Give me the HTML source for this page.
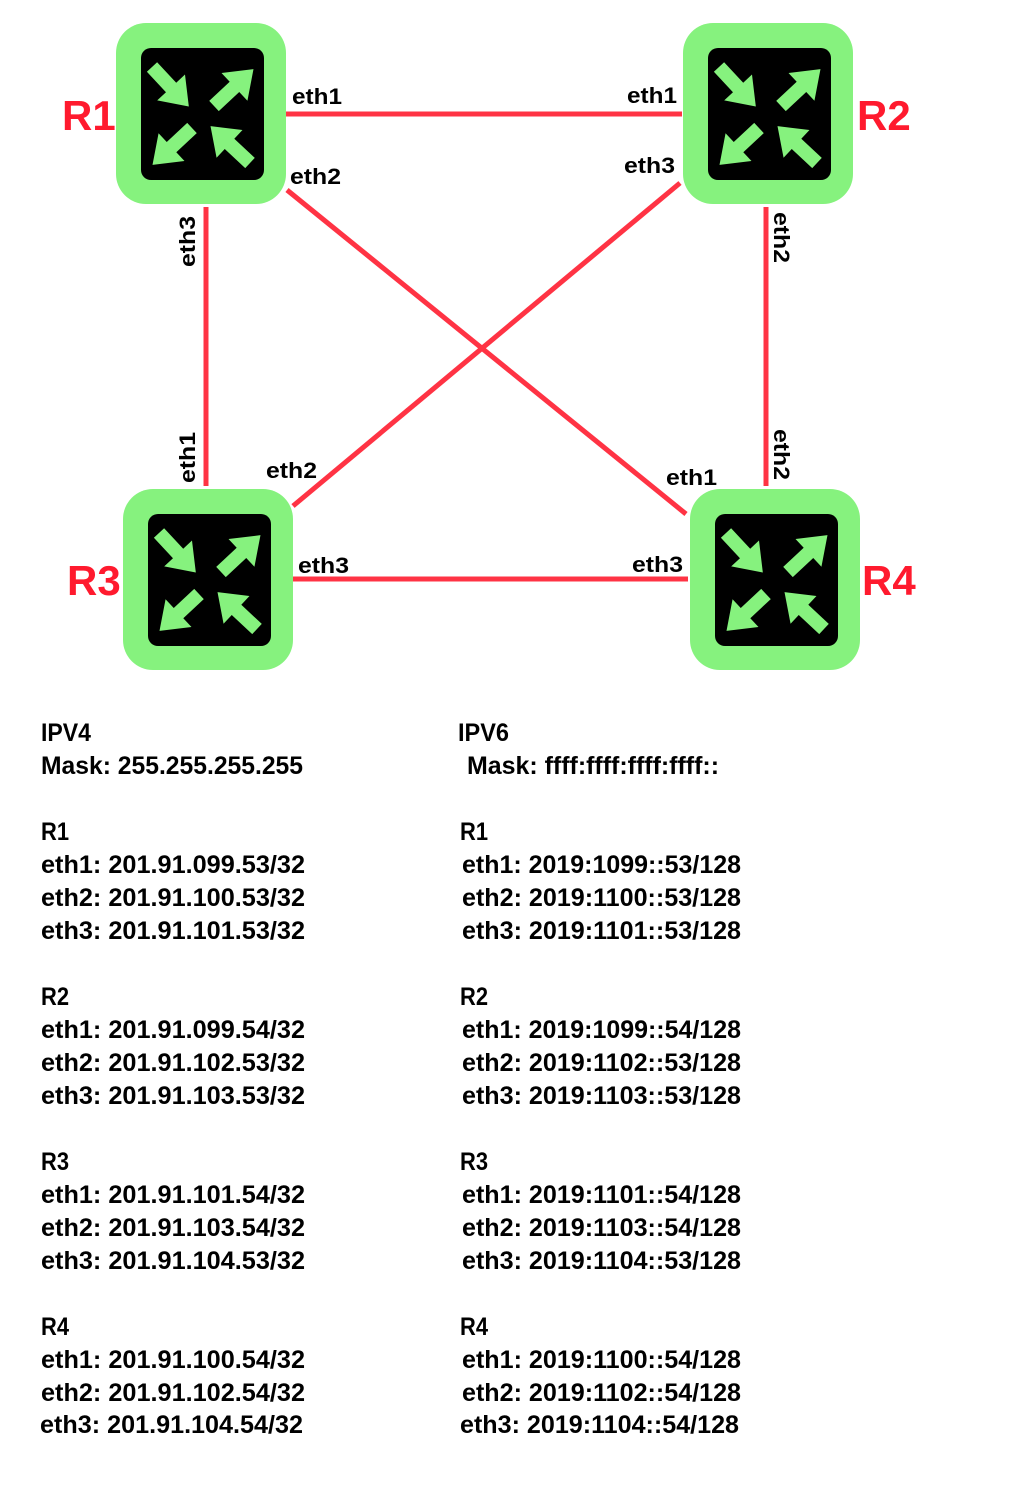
<!DOCTYPE html>
<html><head><meta charset="utf-8"><style>
html,body{margin:0;padding:0;background:#fff;}
svg{display:block;}
text{font-family:"Liberation Sans",sans-serif;font-weight:bold;}
</style></head><body>
<svg width="1016" height="1500" viewBox="0 0 1016 1500" xmlns="http://www.w3.org/2000/svg">
<defs>
<g id="arr"><polygon points="0,-7 28,-7 28,-19 54,0 28,19 28,7 0,7" fill="#86f27e"/></g>
<g id="rt">
<rect x="0" y="0" width="170" height="181" rx="30" fill="#86f27e"/>
<rect x="25" y="25" width="123" height="132" rx="10" fill="#000"/>
<use href="#arr" transform="translate(36,44) rotate(47)"/>
<use href="#arr" transform="translate(98,83) rotate(-43)"/>
<use href="#arr" transform="translate(76,105) rotate(137)"/>
<use href="#arr" transform="translate(134,140) rotate(-137)"/>
</g>
</defs>
<g stroke="#ff3344" stroke-width="5">
<line x1="285" y1="114" x2="682" y2="114"/>
<line x1="287" y1="190" x2="686" y2="514"/>
<line x1="680" y1="183" x2="293" y2="506"/>
<line x1="206" y1="207" x2="206" y2="486"/>
<line x1="766" y1="207" x2="766" y2="486"/>
<line x1="293" y1="579" x2="688" y2="579"/>
</g>
<use href="#rt" x="116" y="23"/>
<use href="#rt" x="683" y="23"/>
<use href="#rt" x="123" y="489"/>
<use href="#rt" x="690" y="489"/>
<g fill="#ff1a2e" font-size="42">
<text x="62" y="130">R1</text>
<text x="857" y="130">R2</text>
<text x="67" y="595">R3</text>
<text x="862" y="595">R4</text>
</g>
<g fill="#000" font-size="22">
<text x="292" y="104" textLength="50" lengthAdjust="spacingAndGlyphs">eth1</text>
<text x="627" y="103" textLength="50" lengthAdjust="spacingAndGlyphs">eth1</text>
<text x="290" y="184" textLength="51" lengthAdjust="spacingAndGlyphs">eth2</text>
<text x="624" y="173" textLength="51" lengthAdjust="spacingAndGlyphs">eth3</text>
<text x="266" y="478" textLength="51" lengthAdjust="spacingAndGlyphs">eth2</text>
<text x="666" y="485" textLength="51" lengthAdjust="spacingAndGlyphs">eth1</text>
<text x="298" y="573" textLength="51" lengthAdjust="spacingAndGlyphs">eth3</text>
<text x="632" y="572" textLength="51" lengthAdjust="spacingAndGlyphs">eth3</text>
<text transform="translate(195,267) rotate(-90)" textLength="51" lengthAdjust="spacingAndGlyphs">eth3</text>
<text transform="translate(195,483) rotate(-90)" textLength="51" lengthAdjust="spacingAndGlyphs">eth1</text>
<text transform="translate(774,212) rotate(90)" textLength="51" lengthAdjust="spacingAndGlyphs">eth2</text>
<text transform="translate(774,429) rotate(90)" textLength="51" lengthAdjust="spacingAndGlyphs">eth2</text>
</g>
<g fill="#000" font-size="25">
<text x="41" y="741" textLength="50" lengthAdjust="spacingAndGlyphs">IPV4</text>
<text x="41" y="774" textLength="262" lengthAdjust="spacingAndGlyphs">Mask: 255.255.255.255</text>
<text x="41" y="840" textLength="28" lengthAdjust="spacingAndGlyphs">R1</text>
<text x="41" y="873" textLength="264" lengthAdjust="spacingAndGlyphs">eth1: 201.91.099.53/32</text>
<text x="41" y="906" textLength="264" lengthAdjust="spacingAndGlyphs">eth2: 201.91.100.53/32</text>
<text x="41" y="939" textLength="264" lengthAdjust="spacingAndGlyphs">eth3: 201.91.101.53/32</text>
<text x="41" y="1005" textLength="28" lengthAdjust="spacingAndGlyphs">R2</text>
<text x="41" y="1038" textLength="264" lengthAdjust="spacingAndGlyphs">eth1: 201.91.099.54/32</text>
<text x="41" y="1071" textLength="264" lengthAdjust="spacingAndGlyphs">eth2: 201.91.102.53/32</text>
<text x="41" y="1104" textLength="264" lengthAdjust="spacingAndGlyphs">eth3: 201.91.103.53/32</text>
<text x="41" y="1170" textLength="28" lengthAdjust="spacingAndGlyphs">R3</text>
<text x="41" y="1203" textLength="264" lengthAdjust="spacingAndGlyphs">eth1: 201.91.101.54/32</text>
<text x="41" y="1236" textLength="264" lengthAdjust="spacingAndGlyphs">eth2: 201.91.103.54/32</text>
<text x="41" y="1269" textLength="264" lengthAdjust="spacingAndGlyphs">eth3: 201.91.104.53/32</text>
<text x="41" y="1335" textLength="28" lengthAdjust="spacingAndGlyphs">R4</text>
<text x="41" y="1368" textLength="264" lengthAdjust="spacingAndGlyphs">eth1: 201.91.100.54/32</text>
<text x="41" y="1401" textLength="264" lengthAdjust="spacingAndGlyphs">eth2: 201.91.102.54/32</text>
<text x="40" y="1433" textLength="263" lengthAdjust="spacingAndGlyphs">eth3: 201.91.104.54/32</text>

<text x="458" y="741" textLength="51" lengthAdjust="spacingAndGlyphs">IPV6</text>
<text x="467" y="774" textLength="252" lengthAdjust="spacingAndGlyphs">Mask: ffff:ffff:ffff:ffff::</text>
<text x="460" y="840" textLength="28" lengthAdjust="spacingAndGlyphs">R1</text>
<text x="462" y="873" textLength="279" lengthAdjust="spacingAndGlyphs">eth1: 2019:1099::53/128</text>
<text x="462" y="906" textLength="279" lengthAdjust="spacingAndGlyphs">eth2: 2019:1100::53/128</text>
<text x="462" y="939" textLength="279" lengthAdjust="spacingAndGlyphs">eth3: 2019:1101::53/128</text>
<text x="460" y="1005" textLength="28" lengthAdjust="spacingAndGlyphs">R2</text>
<text x="462" y="1038" textLength="279" lengthAdjust="spacingAndGlyphs">eth1: 2019:1099::54/128</text>
<text x="462" y="1071" textLength="279" lengthAdjust="spacingAndGlyphs">eth2: 2019:1102::53/128</text>
<text x="462" y="1104" textLength="279" lengthAdjust="spacingAndGlyphs">eth3: 2019:1103::53/128</text>
<text x="460" y="1170" textLength="28" lengthAdjust="spacingAndGlyphs">R3</text>
<text x="462" y="1203" textLength="279" lengthAdjust="spacingAndGlyphs">eth1: 2019:1101::54/128</text>
<text x="462" y="1236" textLength="279" lengthAdjust="spacingAndGlyphs">eth2: 2019:1103::54/128</text>
<text x="462" y="1269" textLength="279" lengthAdjust="spacingAndGlyphs">eth3: 2019:1104::53/128</text>
<text x="460" y="1335" textLength="28" lengthAdjust="spacingAndGlyphs">R4</text>
<text x="462" y="1368" textLength="279" lengthAdjust="spacingAndGlyphs">eth1: 2019:1100::54/128</text>
<text x="462" y="1401" textLength="279" lengthAdjust="spacingAndGlyphs">eth2: 2019:1102::54/128</text>
<text x="460" y="1433" textLength="279" lengthAdjust="spacingAndGlyphs">eth3: 2019:1104::54/128</text>
</g>
</svg>
</body></html>
